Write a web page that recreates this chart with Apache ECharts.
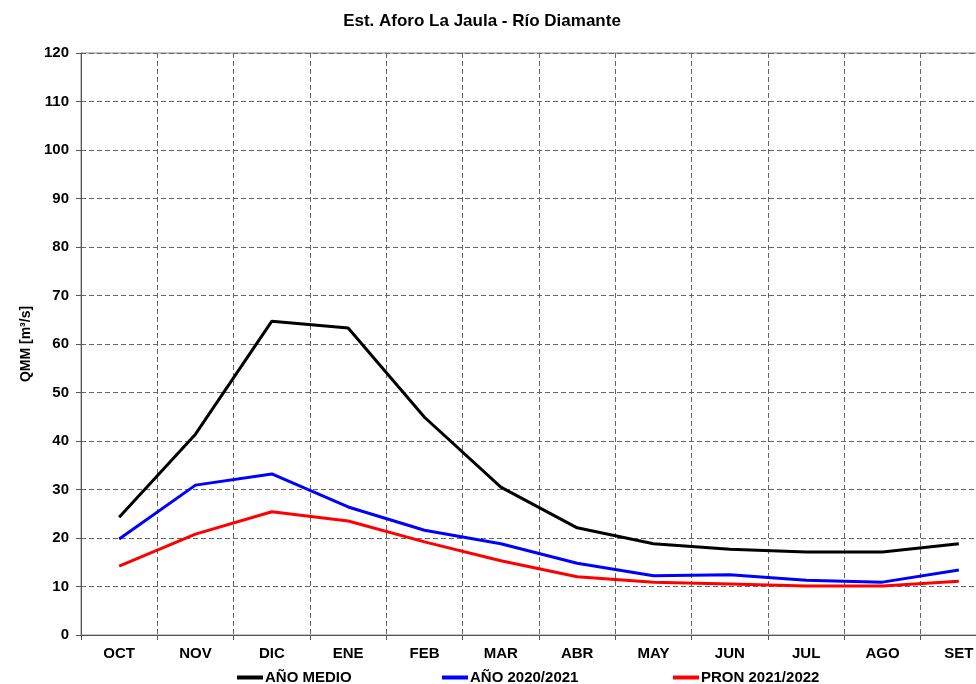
<!DOCTYPE html>
<html>
<head>
<meta charset="utf-8">
<script src="https://cdn.jsdelivr.net/npm/echarts@6/dist/echarts.min.js"></script>
<style>
  html, body { margin: 0; padding: 0; background: #fff; }
  #chart { width: 976px; height: 684px; }
</style>
</head>
<body>
<div id="chart"></div>
<script>
let meses = ['OCT', 'NOV', 'DIC', 'ENE', 'FEB', 'MAR', 'ABR', 'MAY', 'JUN', 'JUL', 'AGO', 'SET']
let anioMedio = [24.3, 41.4, 64.7, 63.3, 44.9, 30.5, 22.1, 18.8, 17.7, 17.1, 17.1, 18.8]
let anio2021 = [19.8, 30.9, 33.2, 26.4, 21.6, 18.8, 14.8, 12.2, 12.4, 11.3, 10.9, 13.4]
let pron2122 = [14.2, 20.8, 25.4, 23.5, 19.2, 15.3, 12.0, 10.9, 10.5, 10.1, 10.1, 11.1]
let nombres = ['AÑO MEDIO', 'AÑO 2020/2021', 'PRON 2021/2022']

let fnt = 'Liberation Sans, Arial, sans-serif'
let ch = echarts.init(document.getElementById('chart'))

function leyenda(name, left) {
  return {
    data: [name],
    left: left,
    top: 670,
    icon: 'rect',
    itemWidth: 26,
    itemHeight: 4,
    itemGap: 0,
    padding: 0,
    textStyle: { fontFamily: fnt, fontWeight: 'bold', fontSize: 15, color: '#000', padding: [0, 0, 0, -3] }
  }
}

let option = {
  animation: false,
  title: {
    text: 'Est. Aforo La Jaula - Río Diamante',
    left: 477,
    textAlign: 'center',
    top: 8,
    textStyle: { fontFamily: fnt, fontWeight: 'bold', fontSize: 17, color: '#000' }
  },
  legend: [
    leyenda(nombres[0], 237),
    leyenda(nombres[1], 442),
    leyenda(nombres[2], 673)
  ],
  grid: {
    left: 81,
    top: 53,
    width: 916,
    bottom: 49,
    show: true,
    borderColor: '#888',
    borderWidth: 1,
    outerBoundsMode: 'none',
    containLabel: false
  },
  xAxis: {
    type: 'category',
    data: meses,
    boundaryGap: true,
    axisLine: { lineStyle: { color: '#555', width: 1 } },
    axisTick: { show: true, length: 5, lineStyle: { color: '#555' } },
    axisLabel: { fontFamily: fnt, fontWeight: 'bold', fontSize: 15, color: '#000', margin: 11 },
    splitLine: { show: true, lineStyle: { color: '#666', type: [5, 3], width: 1 } }
  },
  yAxis: {
    type: 'value',
    min: 0,
    max: 120,
    interval: 10,
    name: 'QMM [m³/s]',
    nameLocation: 'middle',
    nameGap: 48,
    nameTextStyle: { fontFamily: fnt, fontWeight: 'bold', fontSize: 14, color: '#000' },
    axisLine: { show: true, lineStyle: { color: '#555', width: 1 } },
    axisTick: { show: true, length: 5, lineStyle: { color: '#555' } },
    axisLabel: { fontFamily: fnt, fontWeight: 'bold', fontSize: 15, color: '#000', margin: 12 },
    splitLine: { show: true, lineStyle: { color: '#666', type: [5, 3], width: 1 } }
  },
  series: [
    { name: nombres[0], type: 'line', data: anioMedio, color: '#000000', symbol: 'none', lineStyle: { width: 3 } },
    { name: nombres[1], type: 'line', data: anio2021, color: '#0000ff', symbol: 'none', lineStyle: { width: 3 } },
    { name: nombres[2], type: 'line', data: pron2122, color: '#ff0000', symbol: 'none', lineStyle: { width: 3 } }
  ]
}
ch.setOption(option)
</script>
</body>
</html>
